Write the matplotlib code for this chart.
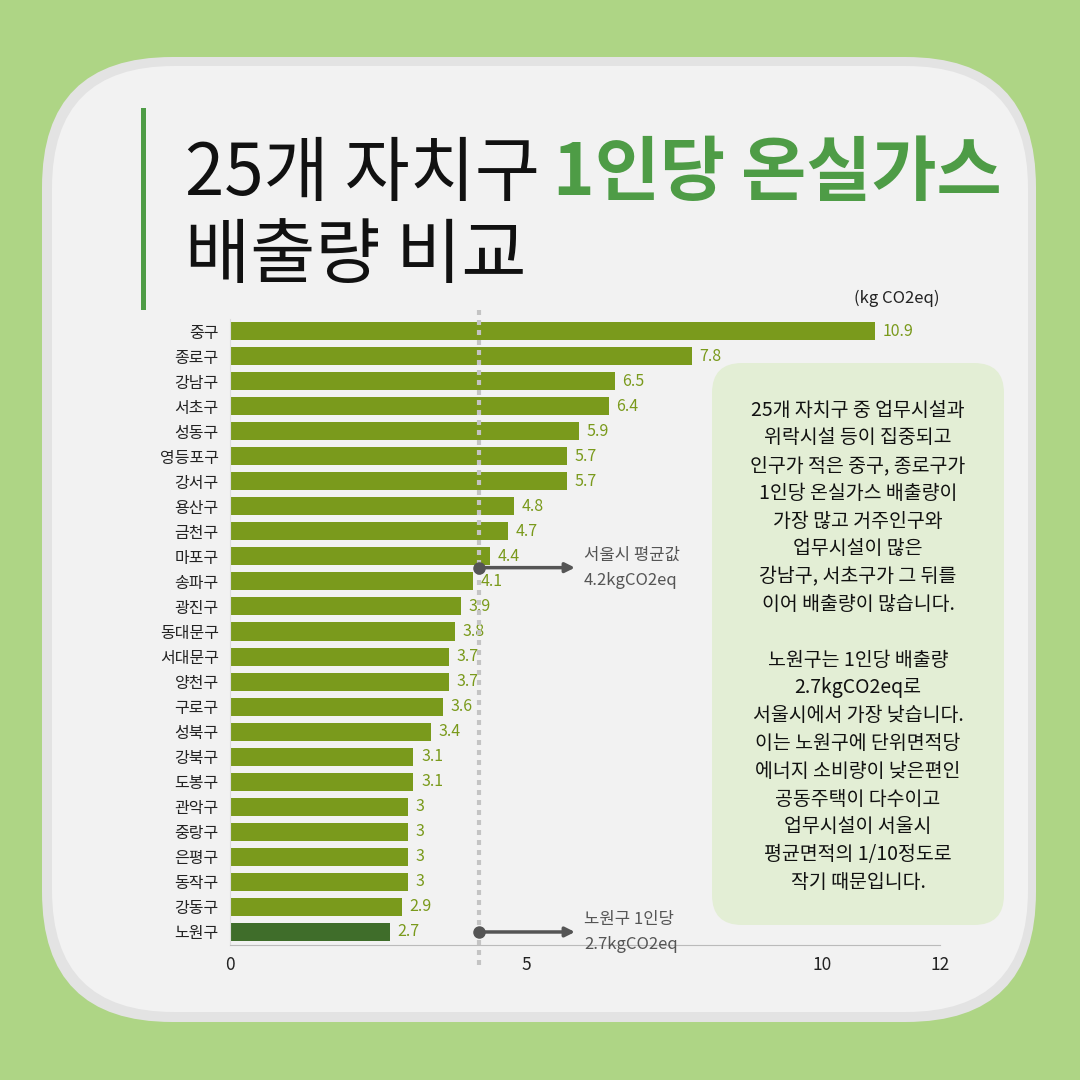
import matplotlib
matplotlib.use("Agg")
import matplotlib.pyplot as plt
from matplotlib.patches import FancyBboxPatch, Rectangle

plt.rcParams['font.family'] = ['Noto Sans CJK KR', 'DejaVu Sans']

# 데이터
districts = ['중구', '종로구', '강남구', '서초구', '성동구', '영등포구', '강서구', '용산구',
             '금천구', '마포구', '송파구', '광진구', '동대문구', '서대문구', '양천구', '구로구',
             '성북구', '강북구', '도봉구', '관악구', '중랑구', '은평구', '동작구', '강동구', '노원구']
values = [10.9, 7.8, 6.5, 6.4, 5.9, 5.7, 5.7, 4.8, 4.7, 4.4, 4.1, 3.9, 3.8, 3.7, 3.7,
          3.6, 3.4, 3.1, 3.1, 3, 3, 3, 3, 2.9, 2.7]
seoul_avg = 4.2
lowest = '노원구'
xticks = [0, 5, 10, 12]

title_black = "25개 자치구"
title_green = "1인당 온실가스"
title_line2 = "배출량 비교"
unit_label = "(kg CO2eq)"
avg_note = ["서울시 평균값", "4.2kgCO2eq"]
low_note = ["노원구 1인당", "2.7kgCO2eq"]
box_lines = ["25개 자치구 중 업무시설과", "위락시설 등이 집중되고", "인구가 적은 중구, 종로구가",
             "1인당 온실가스 배출량이", "가장 많고 거주인구와", "업무시설이 많은",
             "강남구, 서초구가 그 뒤를", "이어 배출량이 많습니다.", "",
             "노원구는 1인당 배출량", "2.7kgCO2eq로", "서울시에서 가장 낮습니다.",
             "이는 노원구에 단위면적당", "에너지 소비량이 낮은편인", "공동주택이 다수이고",
             "업무시설이 서울시", "평균면적의 1/10정도로", "작기 때문입니다."]

BAR = '#7a9a1c'
BAR_LOW = '#3f6d2a'
TITLE_GREEN = '#4e9c46'
GRAY = '#555555'

fig = plt.figure(figsize=(10.8, 10.8), dpi=100)
fig.patch.set_facecolor('#aed585')

# 배경 카드 (픽셀 좌표)
bg = fig.add_axes([0, 0, 1, 1])
bg.set_xlim(0, 1080)
bg.set_ylim(1080, 0)
bg.axis('off')
bg.add_patch(FancyBboxPatch((42, 57), 994, 965, boxstyle='round,pad=0,rounding_size=130',
                            fc='#e3e3e3', ec='none'))
bg.add_patch(FancyBboxPatch((52, 66), 976, 946, boxstyle='round,pad=0,rounding_size=122',
                            fc='#f2f2f2', ec='none'))
bg.add_patch(Rectangle((141, 108), 5, 202, fc=TITLE_GREEN, ec='none'))
bg.add_patch(FancyBboxPatch((712, 363), 292, 562, boxstyle='round,pad=0,rounding_size=30',
                            fc='#e3eed5', ec='none'))

# 제목
TS = 51
t1 = bg.text(185, 195, title_black, fontsize=TS, fontweight='light', color='#111111', va='baseline')
bg.text(185, 277, title_line2, fontsize=TS, fontweight='light', color='#111111', va='baseline')
fig.canvas.draw()
bb = t1.get_window_extent()
x_next = bb.x1 + 0.18 * TS * 100 / 72
bg.text(x_next, 195, title_green, fontsize=TS, fontweight='bold', color=TITLE_GREEN, va='baseline')

# 설명 박스
for i, line in enumerate(box_lines):
    bg.text(858, 410 + i * 27.8, line, fontsize=14, color='#111111', ha='center', va='center')

# 막대 그래프
ax = fig.add_axes([230 / 1080, 135 / 1080, 710 / 1080, 626.5 / 1080])
ax.patch.set_alpha(0)
ypos = list(range(len(districts)))
colors = [BAR_LOW if d == lowest else BAR for d in districts]
ax.barh(ypos, values, height=0.72, color=colors, zorder=2)
ax.set_xlim(0, 12)
ax.set_ylim(len(districts) - 0.48, -0.5)
ax.set_xticks(xticks)
ax.set_xticklabels([str(t) for t in xticks], fontsize=12.5, color='#222222')
ax.set_yticks(ypos)
ax.set_yticklabels(districts, fontsize=11.5, fontweight='medium', color='#222222')
ax.tick_params(axis='both', length=0)
ax.tick_params(axis='x', pad=8)
ax.tick_params(axis='y', pad=8)
for s in ['top', 'right']:
    ax.spines[s].set_visible(False)
ax.spines['bottom'].set_color('#bbbbbb')
ax.spines['left'].set_color('#dddddd')

for i, v in enumerate(values):
    ax.text(v + 0.13, i, f"{v:g}", va='center', ha='left', fontsize=11.5, color=BAR)

# 평균선
ax.plot([seoul_avg, seoul_avg], [len(districts) + 0.3, -1.05], color='#c4c4c4', lw=3,
        linestyle=(0, (1.2, 1.2)), clip_on=False, zorder=3)

ax.text(12, -1.3, unit_label, ha='right', va='center', fontsize=12, color='#222222')

# 주석
def note(y, lines):
    ax.annotate('', xy=(5.83, y), xytext=(seoul_avg, y),
                arrowprops=dict(arrowstyle='-|>', color=GRAY, lw=2.5, mutation_scale=14,
                                shrinkA=0, shrinkB=0), zorder=4)
    ax.plot(seoul_avg, y, 'o', color=GRAY, ms=8, zorder=5, clip_on=False)
    ax.text(5.98, y - 0.5, lines[0], va='center', fontsize=12, color=GRAY)
    ax.text(5.98, y + 0.5, lines[1], va='center', fontsize=12, color=GRAY, clip_on=False)

note(9.45, avg_note)
note(districts.index(lowest), low_note)

fig.savefig('out.png', dpi=100)
